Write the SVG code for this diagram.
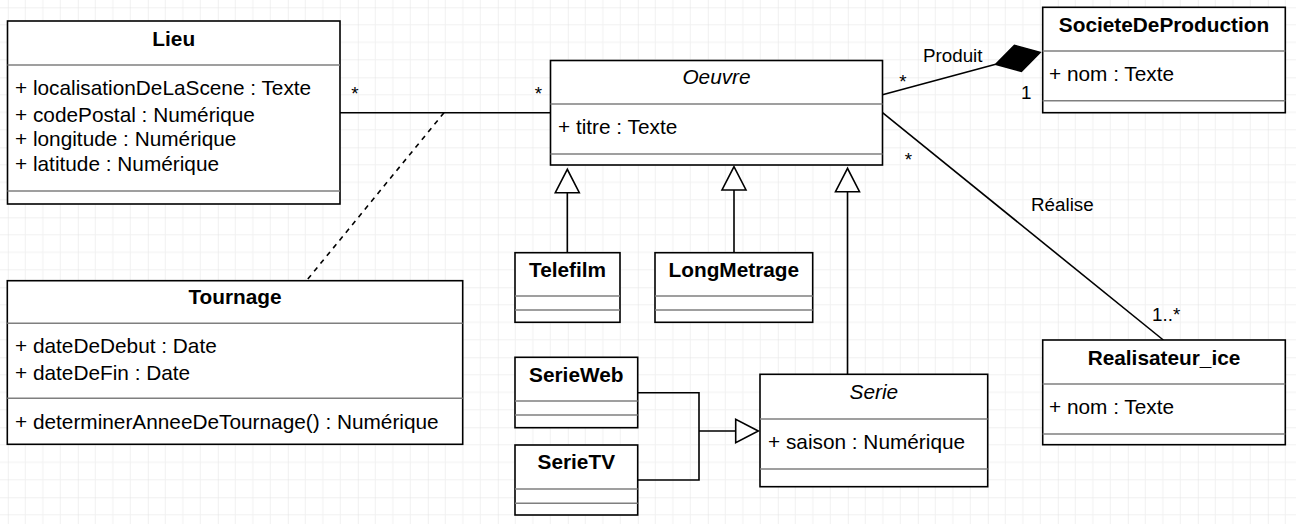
<svg xmlns="http://www.w3.org/2000/svg" width="1296" height="524" viewBox="0 0 1296 524">
<style>
.box{fill:#fff;stroke:#000;stroke-width:1.6}
.div{stroke:#7f7f7f;stroke-width:1.6}
.t{font-family:"Liberation Sans",Arial,sans-serif;font-size:20.8px;fill:#000}
.b{font-weight:bold;text-anchor:middle}
.i{font-style:italic;text-anchor:middle}
.lbl{font-family:"Liberation Sans",Arial,sans-serif;font-size:18.8px;fill:#000}
.mid{text-anchor:middle}
.ln{fill:none;stroke:#000;stroke-width:1.6}
.tri{fill:#fff;stroke:#000;stroke-width:1.6}
</style>
<defs>
<pattern id="grid" patternUnits="userSpaceOnUse" x="7.8" y="7.3" width="70" height="70">
<path d="M17.5 0V70M35 0V70M52.5 0V70M0 17.5H70M0 35H70M0 52.5H70" stroke="#f1f1f1" stroke-width="1" fill="none"/>
<path d="M0 0V70M0 0H70" stroke="#e2e2e2" stroke-width="1" fill="none"/>
</pattern>
</defs>
<rect width="1296" height="524" fill="#fff"/>
<rect width="1296" height="524" fill="url(#grid)"/>

<g id="connectors">
<line class="ln" x1="340" y1="112.7" x2="550.5" y2="112.7"/>
<line class="ln" x1="444" y1="112.7" x2="306.5" y2="280.7" stroke-dasharray="5 5"/>
<line class="ln" x1="882.5" y1="94.7" x2="995.7" y2="64.3"/>
<polygon points="995.7,64.3 1014.4,45.3 1040.1,52.3 1021.4,71.3" fill="#000" stroke="#000" stroke-width="1.6"/>
<line class="ln" x1="882.5" y1="112.7" x2="1163.3" y2="340"/>
<line class="ln" x1="567.3" y1="252.7" x2="567.3" y2="192.7"/>
<polygon class="tri" points="567.3,169.3 555.3,192.7 579.3,192.7"/>
<line class="ln" x1="734" y1="252.7" x2="734" y2="190"/>
<polygon class="tri" points="734,166.7 722,190 746,190"/>
<line class="ln" x1="847.5" y1="374.3" x2="847.5" y2="191.7"/>
<polygon class="tri" points="847.5,168.3 835.5,191.7 859.5,191.7"/>
<path class="ln" d="M637.7 392.7H699V480H637.7M699 431H735.7"/>
<polygon class="tri" points="758.3,431 735.7,419.3 735.7,442.7"/>
<text class="lbl mid" x="355" y="99.7">*</text>
<text class="lbl mid" x="538.3" y="99.7">*</text>
<text class="lbl mid" x="903" y="88">*</text>
<text class="lbl" x="923" y="62.3">Produit</text>
<text class="lbl" x="1021" y="99">1</text>
<text class="lbl mid" x="908.3" y="165.7">*</text>
<text class="lbl" x="1031" y="210.7">Réalise</text>
<text class="lbl" x="1152" y="320.7">1..*</text>
</g>

<g id="Lieu">
<rect class="box" x="7.5" y="21" width="332.5" height="183"/>
<line class="div" x1="7.5" y1="65" x2="340" y2="65"/>
<line class="div" x1="7.5" y1="191" x2="340" y2="191"/>
<text class="t b" x="173.75" y="46">Lieu</text>
<text class="t" x="15" y="95">+ localisationDeLaScene : Texte</text>
<text class="t" x="15" y="121.5">+ codePostal : Numérique</text>
<text class="t" x="15" y="145.7">+ longitude : Numérique</text>
<text class="t" x="15" y="170.5">+ latitude : Numérique</text>
</g>

<g id="Oeuvre">
<rect class="box" x="550.5" y="60.5" width="332" height="104.5"/>
<line class="div" x1="550.5" y1="104" x2="882.5" y2="104"/>
<line class="div" x1="550.5" y1="154" x2="882.5" y2="154"/>
<text class="t i" x="716.5" y="84">Oeuvre</text>
<text class="t" x="558" y="134">+ titre : Texte</text>
</g>

<g id="SocieteDeProduction">
<rect class="box" x="1042.7" y="7.3" width="242.6" height="105.4"/>
<line class="div" x1="1042.7" y1="51" x2="1285.3" y2="51"/>
<line class="div" x1="1042.7" y1="100.7" x2="1285.3" y2="100.7"/>
<text class="t b" x="1164" y="31.7">SocieteDeProduction</text>
<text class="t" x="1049" y="80.7">+ nom : Texte</text>
</g>

<g id="Realisateur_ice">
<rect class="box" x="1042.7" y="340" width="242.6" height="104.7"/>
<line class="div" x1="1042.7" y1="384" x2="1285.3" y2="384"/>
<line class="div" x1="1042.7" y1="434" x2="1285.3" y2="434"/>
<text class="t b" x="1164" y="365">Realisateur_ice</text>
<text class="t" x="1049" y="414">+ nom : Texte</text>
</g>

<g id="Tournage">
<rect class="box" x="7.3" y="280.7" width="455.4" height="163.6"/>
<line class="div" x1="7.3" y1="323.3" x2="462.7" y2="323.3"/>
<line class="div" x1="7.3" y1="398.3" x2="462.7" y2="398.3"/>
<text class="t b" x="235" y="304.3">Tournage</text>
<text class="t" x="15" y="353.3">+ dateDeDebut : Date</text>
<text class="t" x="15" y="380">+ dateDeFin : Date</text>
<text class="t" x="15" y="429.3">+ determinerAnneeDeTournage() : Numérique</text>
</g>

<g id="Telefilm">
<rect class="box" x="515" y="252.7" width="105" height="69.6"/>
<line class="div" x1="515" y1="296" x2="620" y2="296"/>
<line class="div" x1="515" y1="310" x2="620" y2="310"/>
<text class="t b" x="567.5" y="276.7">Telefilm</text>
</g>

<g id="LongMetrage">
<rect class="box" x="655" y="252.7" width="157.7" height="69.6"/>
<line class="div" x1="655" y1="296" x2="812.7" y2="296"/>
<line class="div" x1="655" y1="310" x2="812.7" y2="310"/>
<text class="t b" x="733.8" y="276.7">LongMetrage</text>
</g>

<g id="SerieWeb">
<rect class="box" x="515" y="357.3" width="122.7" height="70.4"/>
<line class="div" x1="515" y1="401" x2="637.7" y2="401"/>
<line class="div" x1="515" y1="415" x2="637.7" y2="415"/>
<text class="t b" x="576.3" y="381.7">SerieWeb</text>
</g>

<g id="SerieTV">
<rect class="box" x="515" y="445" width="122.7" height="70"/>
<line class="div" x1="515" y1="489" x2="637.7" y2="489"/>
<line class="div" x1="515" y1="503.3" x2="637.7" y2="503.3"/>
<text class="t b" x="576.3" y="469.3">SerieTV</text>
</g>

<g id="Serie">
<rect class="box" x="760" y="374.3" width="227.7" height="112.4"/>
<line class="div" x1="760" y1="419" x2="987.7" y2="419"/>
<line class="div" x1="760" y1="469" x2="987.7" y2="469"/>
<text class="t i" x="873.8" y="399.3">Serie</text>
<text class="t" x="768" y="448.7">+ saison : Numérique</text>
</g>
</svg>
